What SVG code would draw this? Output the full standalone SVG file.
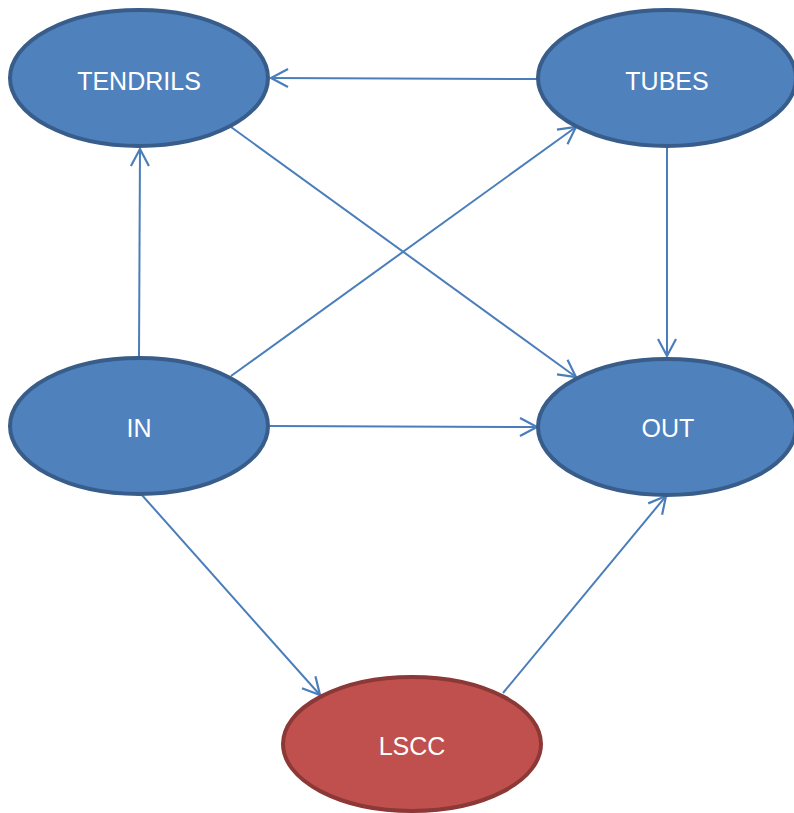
<svg xmlns="http://www.w3.org/2000/svg" width="794" height="813" viewBox="0 0 794 813">
<style>
.blue{fill:#4f81bd;stroke:#385d8a;stroke-width:4}
.red{fill:#c0504d;stroke:#8c3836;stroke-width:4}
.lbl{font-family:"Liberation Sans",Arial,sans-serif;font-size:25px;fill:#ffffff;text-anchor:middle}
.edge{stroke:#4a7ebb;stroke-width:2;fill:none;marker-end:url(#arr)}
</style>
<defs>
<marker id="arr" markerUnits="userSpaceOnUse" markerWidth="24" markerHeight="24" viewBox="-20 -12 24 24" refX="0" refY="0" orient="auto">
<path d="M-17,-9 L0,0 L-17,9" fill="none" stroke="#4a7ebb" stroke-width="2.2"/>
</marker>
</defs>
<g id="connectors">
<line class="edge" x1="538" y1="79" x2="271" y2="78"/>
<line class="edge" x1="139" y1="356" x2="140" y2="149"/>
<line class="edge" x1="231" y1="376" x2="576" y2="127"/>
<line class="edge" x1="231" y1="127" x2="576" y2="377"/>
<line class="edge" x1="667" y1="148" x2="667" y2="356"/>
<line class="edge" x1="270" y1="426" x2="537" y2="427"/>
<line class="edge" x1="141" y1="494" x2="320" y2="695"/>
<line class="edge" x1="503" y1="693" x2="666" y2="496"/>
</g>
<g id="TENDRILS">
<ellipse class="blue" cx="139" cy="78" rx="129" ry="68"/>
<text class="lbl" x="139" y="90">TENDRILS</text>
</g>
<g id="TUBES">
<ellipse class="blue" cx="667" cy="78" rx="129" ry="68"/>
<text class="lbl" x="667" y="90">TUBES</text>
</g>
<g id="IN">
<ellipse class="blue" cx="139" cy="426" rx="129" ry="68"/>
<text class="lbl" x="139" y="437">IN</text>
</g>
<g id="OUT">
<ellipse class="blue" cx="667" cy="427" rx="129" ry="68"/>
<text class="lbl" x="668" y="437">OUT</text>
</g>
<g id="LSCC">
<ellipse class="red" cx="412" cy="744" rx="129" ry="67"/>
<text class="lbl" x="412" y="755">LSCC</text>
</g>
</svg>
